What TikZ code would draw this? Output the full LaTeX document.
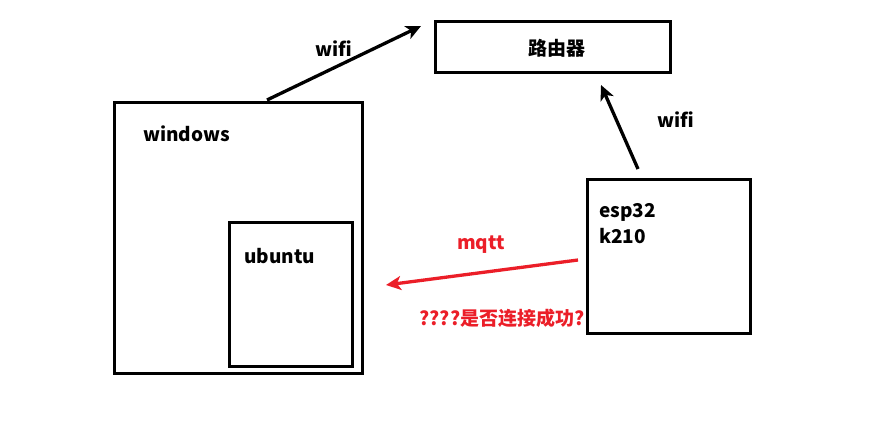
\documentclass[tikz,border=0pt]{standalone}
\usepackage{fontspec}
\setmainfont{Noto Sans CJK SC}
\usetikzlibrary{arrows.meta}
\definecolor{mqttred}{RGB}{235,30,40}
\tikzset{
  box/.style={draw,line width=3pt,inner sep=0pt},
  lbl/.style={inner sep=0pt,anchor=base west,font=\fontsize{19}{26}\selectfont\bfseries},
  link/.style={line width=3.3pt,-{Stealth[length=15pt,width=14pt,inset=4pt]}},
}
\begin{document}
\begin{tikzpicture}[x=1pt,y=1pt,yscale=-1,xscale=1]
            \useasboundingbox (0,0) rectangle (880,433);
            %Shape: Rectangle [id:router]
            \draw[box] (435,22) rectangle (670,73);
            \node[inner sep=0pt,font=\fontsize{19}{26}\selectfont\bfseries] (router) at (557,48) {路由器};
            %Shape: Rectangle [id:windows]
            \draw[box] (114,103) rectangle (362,373);
            %Shape: Rectangle [id:ubuntu]
            \draw[box] (229,222) rectangle (352,366);
            %Shape: Rectangle [id:esp]
            \draw[box] (587,179) rectangle (750,333);

            % Text Node
            \node[lbl] (windows) at (143,142) {windows};
            % Text Node
            \node[lbl] (ubuntu) at (244,263) {ubuntu};
            % Text Node
            \node[lbl,align=left,anchor=north west] (esp) at (599,203) {esp32\\k210};

            % Arrows
            \coordinate (pcout) at (267,100);
            \coordinate (pcin) at (421,26);
            \draw[link] (pcout) -- (pcin);
            \coordinate (espout) at (638,169);
            \coordinate (espin) at (601,85);
            \draw[link] (espout) -- (espin);
            \coordinate (mqttout) at (578,260);
            \coordinate (mqttin) at (386,285);
            \draw[link,mqttred] (mqttout) -- (mqttin);

            % Text Node
            \node[lbl] (wifia) at (315,57) {wifi};
            % Text Node
            \node[lbl] (wifib) at (657,128) {wifi};
            % Text Node
            \node[lbl,text=mqttred,anchor=base] (mqtt) at (481,249) {mqtt};
            % Text Node
            \node[lbl,text=mqttred,anchor=base] (ask) at (502,325) {????是否连接成功?};
\end{tikzpicture}
\end{document}
